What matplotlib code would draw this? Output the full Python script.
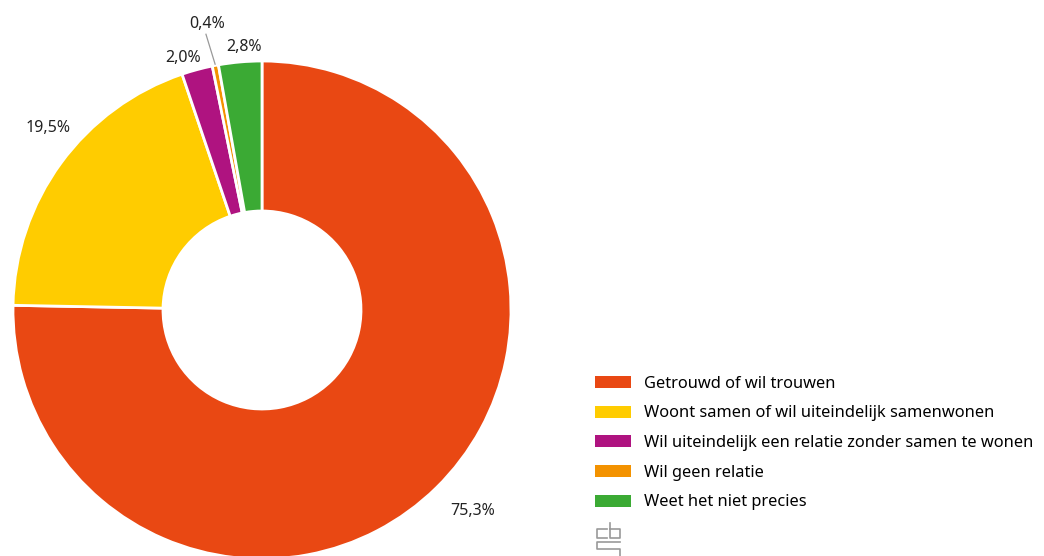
import numpy as np
import matplotlib.pyplot as plt
from matplotlib.patches import Patch

plt.rcParams['font.family'] = ['Noto Sans', 'DejaVu Sans']

categories = ["Getrouwd of wil trouwen",
              "Woont samen of wil uiteindelijk samenwonen",
              "Wil uiteindelijk een relatie zonder samen te wonen",
              "Wil geen relatie",
              "Weet het niet precies"]
values = [75.3, 19.5, 2.0, 0.4, 2.8]
labels = ["75,3%", "19,5%", "2,0%", "0,4%", "2,8%"]
colors = ["#E94813", "#FFCC00", "#AF1380", "#F39200", "#3BAA34"]

# afstand van label t.o.v. middelpunt (in straal) en hoekcorrectie
label_r = [1.17, 1.13, 1.06, 1.17, 1.06]
label_da = [1.8, -4.2, 2.2, 0, -1.1]

fig = plt.figure(figsize=(10.44, 5.56), dpi=100)
ax = fig.add_axes([0, 0, 1, 1])

cx, cy, R = 262, 246, 249
wedges, _ = ax.pie(values, colors=colors, startangle=90, counterclock=False,
                   center=(cx, cy), radius=R, frame=True,
                   wedgeprops=dict(width=150, edgecolor='white', linewidth=2))
ax.set_xlim(0, 1044)
ax.set_ylim(0, 556)
ax.set_aspect('equal')
ax.axis('off')

start = 90.0
for v, lab, rr, da in zip(values, labels, label_r, label_da):
    mid = start - v * 360 / 100 / 2
    start -= v * 360 / 100
    a = np.deg2rad(mid + da)
    x = cx + R * rr * np.cos(a)
    y = cy + R * rr * np.sin(a)
    ax.text(x, y, lab, ha='center', va='center', fontsize=11.5, color='#222222')
    if lab == "0,4%":
        a0 = np.deg2rad(mid)
        ax.plot([cx + R * 1.005 * np.cos(a0), cx + R * 1.13 * np.cos(a0 + 0.012)],
                [cy + R * 1.005 * np.sin(a0), cy + R * 1.13 * np.sin(a0 + 0.012)],
                color='#999999', lw=0.9)

handles = [Patch(facecolor=c, edgecolor='none') for c in colors]
fig.legend(handles, categories, loc='upper left', bbox_to_anchor=(0.570, 0.324),
           frameon=False, fontsize=11.8, handlelength=2.2, handleheight=0.75,
           handletextpad=0.8, labelspacing=0.83, borderpad=0, borderaxespad=0)

# cbs-logo (vereenvoudigd)
lx, ly = 597, 27
g = '#999999'
ax.plot([lx + 10, lx, lx, lx + 10], [ly, ly, ly - 9, ly - 9], color=g, lw=1.2)
ax.plot([lx + 13, lx + 13, lx + 23, lx + 23, lx + 13], [ly + 6, ly - 9, ly - 9, ly, ly], color=g, lw=1.2)
ax.plot([lx + 23, lx, lx, lx + 23, lx + 23, lx], [ly - 13, ly - 13, ly - 20, ly - 20, ly - 29, ly - 29], color=g, lw=1.2)

fig.savefig("out.png", dpi=100)
